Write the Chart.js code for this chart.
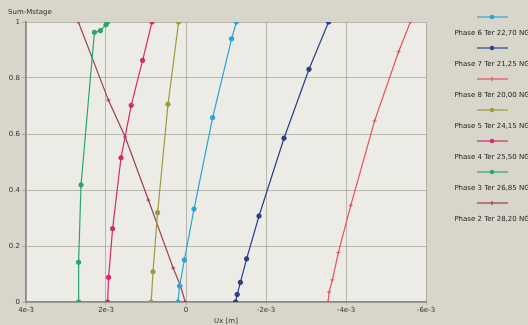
<!DOCTYPE html>
<html>
<head>
<meta charset="utf-8">
<script src="https://cdn.jsdelivr.net/npm/chart.js@4"></script>
<style>
  html, body { margin: 0; padding: 0; background: #d8d5ca; }
  canvas { display: block; }
</style>
</head>
<body>
<canvas id="chart" width="528" height="325"></canvas>
<script>
// values, Ux in metres, y = Sum-Mstage
const phaseNames = [
  "Phase 6 Ter 22,70 NG", "Phase 7 Ter 21,25 NG", "Phase 8 Ter 20,00 NG",
  "Phase 5 Ter 24,15 NG", "Phase 4 Ter 25,50 NG", "Phase 3 Ter 26,85 NG",
  "Phase 2 Ter 28,20 NG"
];

const phase6X = [0.20e-3, 0.16e-3, 0.04e-3, -0.20e-3, -0.665e-3, -1.14e-3, -1.26e-3];
const phase6Y = [0, 0.057, 0.15, 0.332, 0.658, 0.94, 1.0];

const phase7X = [-1.24e-3, -1.28e-3, -1.36e-3, -1.515e-3, -1.825e-3, -2.45e-3, -3.075e-3, -3.565e-3];
const phase7Y = [0, 0.027, 0.07, 0.154, 0.307, 0.585, 0.831, 1.0];

const phase8X = [-3.55e-3, -3.58e-3, -3.66e-3, -3.81e-3, -4.12e-3, -4.715e-3, -5.315e-3, -5.61e-3];
const phase8Y = [0, 0.036, 0.079, 0.177, 0.345, 0.647, 0.894, 1.0];

const phase5X = [0.87e-3, 0.825e-3, 0.71e-3, 0.45e-3, 0.185e-3];
const phase5Y = [0, 0.108, 0.319, 0.706, 1.0];

const phase4X = [1.96e-3, 1.935e-3, 1.835e-3, 1.625e-3, 1.37e-3, 1.085e-3, 0.85e-3];
const phase4Y = [0, 0.088, 0.262, 0.515, 0.702, 0.863, 1.0];

const phase3X = [2.685e-3, 2.685e-3, 2.625e-3, 2.29e-3, 2.14e-3, 2.0e-3, 1.96e-3];
const phase3Y = [0, 0.142, 0.418, 0.963, 0.969, 0.99, 1.0];

const phase2X = [0.02e-3, 0.135e-3, 0.32e-3, 0.94e-3, 1.52e-3, 1.94e-3, 2.69e-3];
const phase2Y = [0, 0.057, 0.121, 0.364, 0.589, 0.721, 1.0];

const xTickLabels = { "-6": "-6e-3", "-4": "-4e-3", "-2": "-2e-3", "0": "0", "2": "2e-3", "4": "4e-3" };
const yTickLabels = ["0", "0.2", "0.4", "0.6", "0.8", "1"];

const colors = ["#2ba3d8", "#2c3d8a", "#e6505f", "#9d9a3e", "#d42b6c", "#27a86b", "#9b3f52"];
const markers = ["circle", "circle", "cross", "circle", "circle", "circle", "cross"];

const seriesX = [phase6X, phase7X, phase8X, phase5X, phase4X, phase3X, phase2X];
const seriesY = [phase6Y, phase7Y, phase8Y, phase5Y, phase4Y, phase3Y, phase2Y];

const datasets = phaseNames.map((name, i) => ({
  label: name,
  data: seriesX[i].map((x, j) => ({ x: x, y: seriesY[i][j] })),
  showLine: true,
  borderColor: colors[i],
  backgroundColor: colors[i],
  borderWidth: 1.2,
  pointStyle: markers[i],
  pointRadius: markers[i] === "cross" ? 2 : 2.2,
  pointBorderWidth: 1,
  tension: 0
}));

const FONT = "DejaVu Sans";

const backdrop = {
  id: "backdrop",
  beforeDraw(chart) {
    const { ctx, chartArea: a } = chart;
    ctx.save();
    ctx.fillStyle = "#d8d5ca";
    ctx.fillRect(0, 0, chart.width, chart.height);
    ctx.fillStyle = "#ecebe5";
    ctx.fillRect(a.left, a.top, a.right - a.left, a.bottom - a.top);
    ctx.restore();
  },
  afterDraw(chart) {
    const ctx = chart.ctx;
    ctx.save();
    ctx.fillStyle = "#333";
    ctx.font = "7px '" + FONT + "'";
    ctx.textBaseline = "middle";
    ctx.textAlign = "left";
    ctx.fillText("Sum-Mstage", 8, 12);

    // legend: sample line with marker above a centred label
    const cx = 492;
    chart.data.datasets.forEach((ds, i) => {
      const ly = 17 + 31 * i;
      ctx.strokeStyle = ds.borderColor;
      ctx.lineWidth = 1.2;
      ctx.beginPath();
      ctx.moveTo(477, ly);
      ctx.lineTo(508, ly);
      ctx.stroke();
      if (ds.pointStyle === "cross") {
        ctx.beginPath();
        ctx.moveTo(cx, ly - 2);
        ctx.lineTo(cx, ly + 2);
        ctx.stroke();
      } else {
        ctx.fillStyle = ds.backgroundColor;
        ctx.beginPath();
        ctx.arc(cx, ly, 2.2, 0, Math.PI * 2);
        ctx.fill();
      }
      ctx.fillStyle = "#222";
      ctx.textAlign = "center";
      ctx.fillText(ds.label, cx, 33 + 31 * i);
    });
    ctx.restore();
  }
};

new Chart(document.getElementById("chart").getContext("2d"), {
  type: "scatter",
  data: { datasets: datasets },
  options: {
    responsive: false,
    animation: false,
    devicePixelRatio: 1,
    layout: { padding: { top: 22, right: 102, left: 0, bottom: 0 } },
    plugins: {
      legend: { display: false },
      tooltip: { enabled: false }
    },
    scales: {
      x: {
        type: "linear",
        reverse: true,
        min: -6e-3,
        max: 4e-3,
        afterFit: s => { s.height = 23; },
        ticks: {
          stepSize: 2e-3,
          padding: 1,
          color: "#333",
          font: { family: FONT, size: 7 },
          callback: v => xTickLabels[String(Math.round(v * 1000))]
        },
        grid: { color: "rgba(140,140,130,0.55)", lineWidth: 1, tickLength: 3 },
        border: { color: "#8a8a84", width: 1.5 },
        title: { display: true, text: "Ux [m]", color: "#333", font: { family: FONT, size: 7 }, padding: 0 }
      },
      y: {
        min: 0,
        max: 1,
        afterFit: s => { s.width = 26; },
        ticks: {
          stepSize: 0.2,
          padding: 2,
          color: "#333",
          font: { family: FONT, size: 7 },
          callback: (v, i) => yTickLabels[i]
        },
        grid: { color: "rgba(140,140,130,0.55)", lineWidth: 1, tickLength: 4 },
        border: { color: "#8a8a84", width: 1.5 }
      }
    }
  },
  plugins: [backdrop]
});
</script>
</body>
</html>
